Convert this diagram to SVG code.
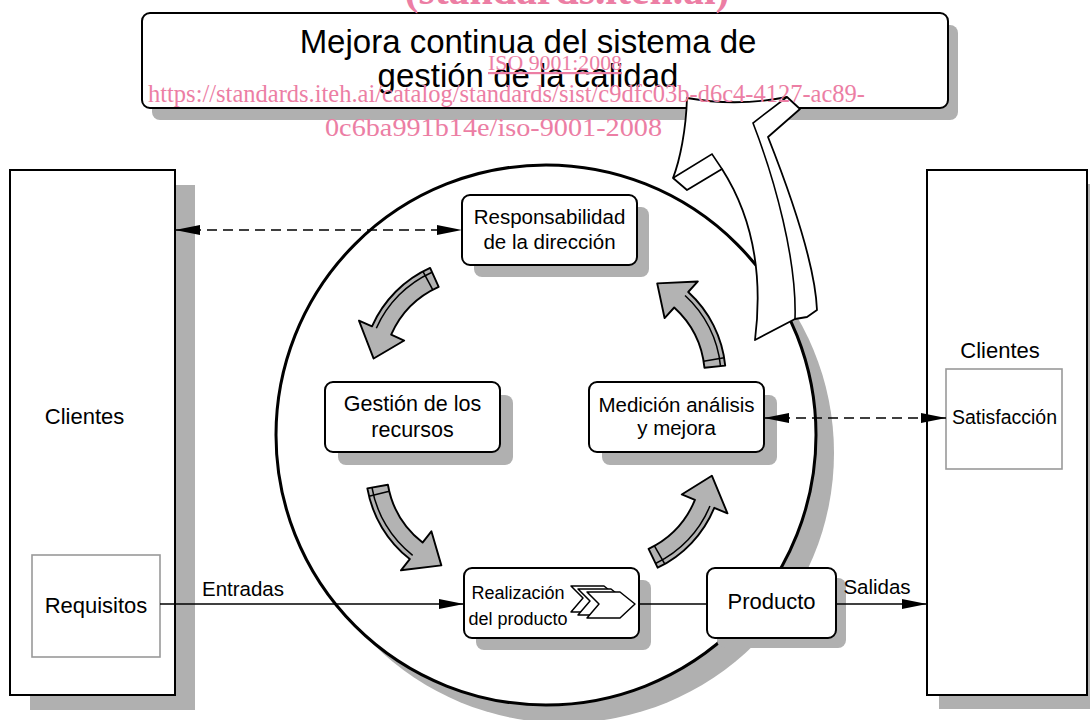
<svg xmlns="http://www.w3.org/2000/svg" width="1090" height="720" viewBox="0 0 1090 720">
<style>
.sh{fill:#b0b0b0;stroke:none}
.nd{fill:#fff;stroke:#000;stroke-width:2}
.gb{fill:#fff;stroke:#999;stroke-width:1.6}
.t{font-family:"Liberation Sans",Arial,sans-serif;fill:#000;text-anchor:middle}
.wm{font-family:"Liberation Serif","Times New Roman",serif;fill:#ec7ea4;text-anchor:middle}
.ln{fill:none;stroke:#000;stroke-width:1.6}
.dash{stroke-dasharray:10 6}
.ga{fill:#b3b3b3;stroke:#000;stroke-width:2;stroke-linejoin:round}
.gl{fill:none;stroke:#000;stroke-width:1.6}
</style>
<defs>
<marker id="ah" viewBox="0 0 25 10" refX="25" refY="5" markerWidth="25" markerHeight="10" markerUnits="userSpaceOnUse" orient="auto-start-reverse">
<path d="M0,0 L25,5 L0,10 Z" fill="#000"/>
</marker>
<g id="garrow">
<path class="ga" d="M -48.2,-8.8 A 99,99 0 0 0 22.2,-0.1 L 18.6,-14.7 L 53.3,-0.9 L 31.2,35.8 L 27.6,21.2 A 121,121 0 0 1 -58.5,10.6 Z"/>
<path class="gl" d="M -56.2,6.2 A 116,116 0 0 0 26.4,16.4"/>
<path class="gl" d="M -42,-5.8 L -50.9,14.3"/>
</g>
</defs>

<g id="clientes-izq">
<rect class="sh" x="30" y="185" width="165" height="525"/>
<rect class="nd" x="10" y="170" width="165" height="525"/>
<text class="t" x="84.5" y="424" font-size="22">Clientes</text>
<rect class="gb" x="32" y="555" width="128" height="102"/>
<text class="t" x="96" y="613" font-size="22">Requisitos</text>
</g>

<g id="clientes-der">
<rect class="sh" x="939" y="184" width="165" height="525"/>
<rect class="nd" x="927" y="170" width="160" height="525"/>
<text class="t" x="1000" y="358" font-size="22">Clientes</text>
<rect class="gb" x="946" y="369" width="116" height="100"/>
<text class="t" x="1004.5" y="424" font-size="19.5">Satisfacción</text>
</g>

<g id="titulo">
<rect class="sh" x="152" y="25" width="806" height="95" rx="8"/>
<rect class="nd" x="142" y="13" width="806" height="95" rx="8"/>
<text class="t" x="528" y="53" font-size="33">Mejora continua del sistema de</text>
<text class="t" x="528" y="87" font-size="33">gestión de la calidad</text>
</g>

<g id="circulo">
<circle class="sh" cx="564" cy="453" r="270"/>
<circle cx="546" cy="435" r="270" fill="#fff" stroke="#000" stroke-width="3"/>
</g>

<g id="mejora-flecha">
<path fill="#fff" stroke="#000" stroke-width="1.8" stroke-linejoin="round" d="M 687,98 Q 737,107 787,97 L 800,109 L 768,137 C 785,180 815,260 817,310 L 807,317 L 795,319 L 755,340 C 765,260 745,205 722,169 L 687,190 L 673,178 C 680,160 686,130 687,98 Z"/>
<path fill="none" stroke="#000" stroke-width="1.6" d="M 787,97 L 753,123 C 775,180 797,260 795,319"/>
<path fill="none" stroke="#000" stroke-width="1.6" d="M 673,178 L 712,154 L 722,169"/>
</g>

<g id="responsabilidad">
<rect class="sh" x="474" y="207" width="175" height="70" rx="8"/>
<rect class="nd" x="462" y="195" width="175" height="70" rx="8"/>
<text class="t" x="549.5" y="224" font-size="20.5">Responsabilidad</text>
<text class="t" x="549.5" y="249" font-size="20.5">de la dirección</text>
</g>

<g id="gestion">
<rect class="sh" x="338" y="395" width="175" height="70" rx="8"/>
<rect class="nd" x="325" y="382" width="175" height="70" rx="8"/>
<text class="t" x="412.5" y="411" font-size="21.5">Gestión de los</text>
<text class="t" x="412.5" y="437" font-size="21.5">recursos</text>
</g>

<g id="medicion">
<rect class="sh" x="602" y="395" width="175" height="70" rx="8"/>
<rect class="nd" x="589" y="382" width="175" height="70" rx="8"/>
<text class="t" x="676.5" y="412" font-size="20.5">Medición análisis</text>
<text class="t" x="676.5" y="435" font-size="20.5">y mejora</text>
</g>

<g id="realizacion">
<rect class="sh" x="476" y="580" width="175" height="70" rx="8"/>
<rect class="nd" x="464" y="568" width="175" height="70" rx="8"/>
<text class="t" x="518" y="599" font-size="18">Realización</text>
<text class="t" x="518" y="625" font-size="18">del producto</text>
<g fill="#fff" stroke="#000" stroke-width="1.5" stroke-linejoin="round">
<path transform="translate(-16,-6)" d="M 587,592 L 620,592 L 635,604 L 620,618 L 587,618 L 599,604 Z"/>
<path transform="translate(-9,-3)" d="M 587,592 L 620,592 L 635,604 L 620,618 L 587,618 L 599,604 Z"/>
<path d="M 587,592 L 620,592 L 635,604 L 620,618 L 587,618 L 599,604 Z"/>
</g>
</g>

<g id="producto">
<rect class="sh" x="717" y="578" width="129" height="70" rx="8"/>
<rect class="nd" x="707" y="568" width="129" height="70" rx="8"/>
<text class="t" x="771.5" y="609" font-size="22">Producto</text>
</g>

<g id="ciclo">
<use href="#garrow" transform="translate(404,318) rotate(127.8) scale(0.95)"/>
<use href="#garrow" transform="translate(409.5,526) rotate(52) scale(0.95)"/>
<use href="#garrow" transform="translate(682.5,517) rotate(-53.6) scale(0.95)"/>
<use href="#garrow" transform="translate(686,325) rotate(-123.7) scale(0.95)"/>
</g>

<g id="conectores">
<path class="ln dash" d="M 175,230 L 462,230" marker-start="url(#ah)" marker-end="url(#ah)"/>
<path class="ln dash" d="M 764,418 L 946,418" marker-start="url(#ah)" marker-end="url(#ah)"/>
<path class="ln" d="M 160,604 L 464,604" marker-end="url(#ah)"/>
<path class="ln" d="M 639,604 L 707,604"/>
<path class="ln" d="M 836,604 L 927,604" marker-end="url(#ah)"/>
<text class="t" x="243" y="596" font-size="20.5">Entradas</text>
<text class="t" x="877" y="594" font-size="20.5">Salidas</text>
</g>

<g id="marca">
<text class="wm" x="567" y="4" font-size="44" font-weight="bold" textLength="325" lengthAdjust="spacingAndGlyphs">(standards.iteh.ai)</text>
<text class="wm" x="555" y="70" font-size="22" textLength="134" lengthAdjust="spacingAndGlyphs" text-decoration="underline">ISO 9001:2008</text>
<text class="wm" x="506.5" y="102" font-size="26" textLength="717" lengthAdjust="spacingAndGlyphs">https://standards.iteh.ai/catalog/standards/sist/c9dfc03b-d6c4-4127-ac89-</text>
<text class="wm" x="493.5" y="136" font-size="26" textLength="337" lengthAdjust="spacingAndGlyphs">0c6ba991b14e/iso-9001-2008</text>
</g>
</svg>
